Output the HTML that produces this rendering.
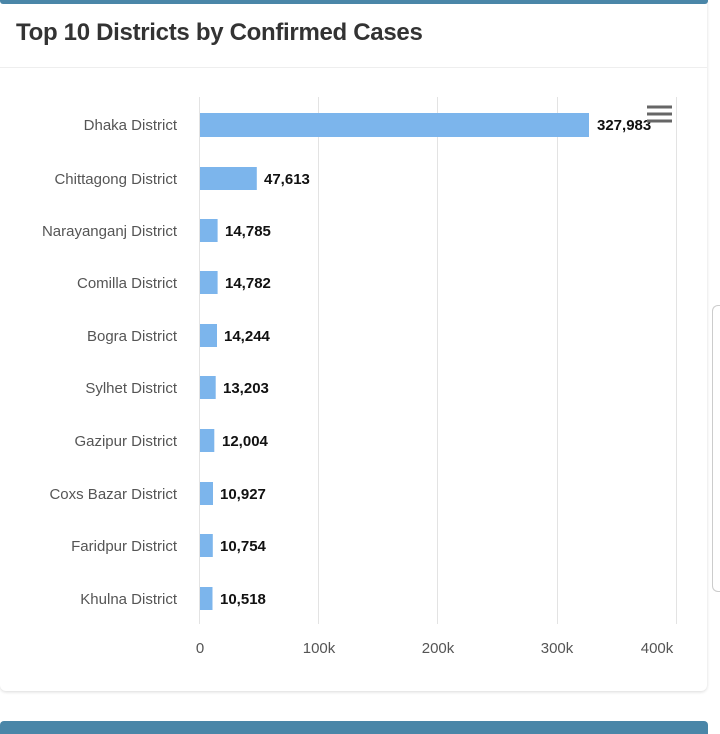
<!DOCTYPE html>
<html><head><style>
body{margin:0;width:720px;height:734px;background:#fff;position:relative;overflow:hidden;font-family:"Liberation Sans",sans-serif}
.card{position:absolute;left:0;top:0;width:707px;height:691px;border-radius:0 0 6px 6px;box-shadow:0 1px 3px rgba(0,0,0,.15);background:#fff}
.top{position:absolute;left:0;top:0;width:708px;height:4px;background:#4a86a8;border-radius:0 0 3px 3px}
.top2{position:absolute;left:0;top:721px;width:708px;height:13px;background:#4a86a8;border-radius:4px 4px 0 0}
h1{position:absolute;left:16px;top:19px;margin:0;font-size:24px;font-weight:bold;color:#333;letter-spacing:-0.3px}
.div{position:absolute;left:0;top:67px;width:707px;height:1px;background:#eee}
.sb{position:absolute;left:712px;top:305px;width:10px;height:285px;border:1px solid #ccc;border-right:none;border-radius:6px 0 0 6px}
</style></head><body>
<div class="card"></div>
<div class="top"></div>
<h1>Top 10 Districts by Confirmed Cases</h1>
<div class="div"></div>
<svg width="720" height="734" style="position:absolute;left:0;top:0" font-family="Liberation Sans, sans-serif">
<g stroke="#e3e3e3" stroke-width="1">
<line x1="199.5" y1="97" x2="199.5" y2="624"/><line x1="318.5" y1="97" x2="318.5" y2="624"/><line x1="437.5" y1="97" x2="437.5" y2="624"/><line x1="557.5" y1="97" x2="557.5" y2="624"/><line x1="676.5" y1="97" x2="676.5" y2="624"/>
</g>
<g fill="#7cb5ec">
<rect x="200" y="113" width="389" height="24"/>
<rect x="200" y="167" width="56.8" height="23"/>
<rect x="200" y="219" width="17.6" height="23"/>
<rect x="200" y="271" width="17.6" height="23"/>
<rect x="200" y="324" width="17" height="23"/>
<rect x="200" y="376" width="15.7" height="23"/>
<rect x="200" y="429" width="14.3" height="23"/>
<rect x="200" y="482" width="13" height="23"/>
<rect x="200" y="534" width="12.8" height="23"/>
<rect x="200" y="587" width="12.5" height="23"/>
</g>
<g font-size="15" fill="#555" text-anchor="end">
<text x="177" y="130">Dhaka District</text>
<text x="177" y="184">Chittagong District</text>
<text x="177" y="236">Narayanganj District</text>
<text x="177" y="288">Comilla District</text>
<text x="177" y="341">Bogra District</text>
<text x="177" y="393">Sylhet District</text>
<text x="177" y="446">Gazipur District</text>
<text x="177" y="499">Coxs Bazar District</text>
<text x="177" y="551">Faridpur District</text>
<text x="177" y="604">Khulna District</text>
</g>
<g font-size="15" font-weight="bold" fill="#111">
<text x="597" y="130">327,983</text>
<text x="264" y="184">47,613</text>
<text x="225" y="236">14,785</text>
<text x="225" y="288">14,782</text>
<text x="224" y="341">14,244</text>
<text x="223" y="393">13,203</text>
<text x="222" y="446">12,004</text>
<text x="220" y="499">10,927</text>
<text x="220" y="551">10,754</text>
<text x="220" y="604">10,518</text>
</g>
<g font-size="15" fill="#555" text-anchor="middle">
<text x="200" y="653">0</text><text x="319" y="653">100k</text><text x="438" y="653">200k</text><text x="557" y="653">300k</text><text x="657" y="653">400k</text>
</g>
<g stroke="#666" stroke-width="3"><line x1="647" y1="107" x2="672" y2="107"/><line x1="647" y1="114" x2="672" y2="114"/><line x1="647" y1="121" x2="672" y2="121"/></g>
</svg>
<div class="sb"></div>
<div class="top2"></div>
</body></html>
